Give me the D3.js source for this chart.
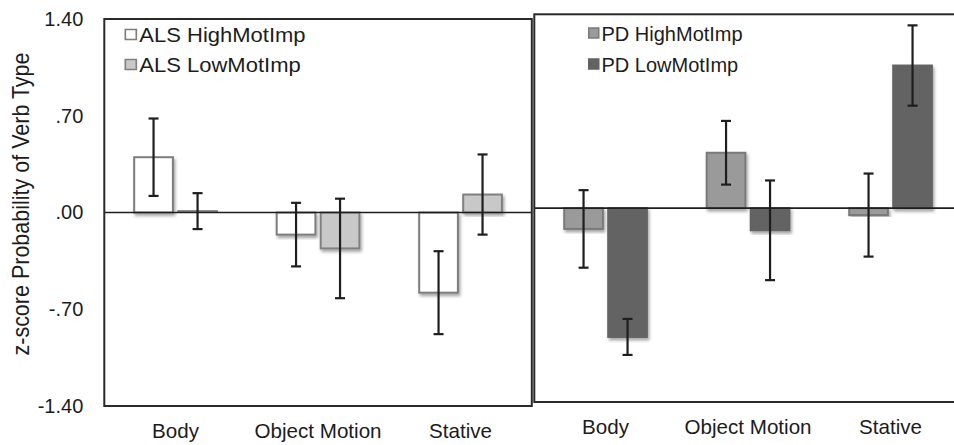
<!DOCTYPE html>
<html>
<head>
<meta charset="utf-8">
<script src="https://cdn.jsdelivr.net/npm/d3@7"></script>
<style>
  body { margin: 0; background: #fff; }
  svg text { font-family: "Liberation Sans", Arial, sans-serif; fill: #1c1c1c; }
</style>
</head>
<body>
<div id="chart"></div>
<script>
// data
const categories = ["Body", "Object Motion", "Stative"];
const alsHigh = [0.40, -0.16, -0.58];
const alsHighErr = [0.28, 0.23, 0.30];
const alsLow = [0.01, -0.26, 0.13];
const alsLowErr = [0.13, 0.36, 0.29];
const pdHigh = [-0.15, 0.40, -0.05];
const pdHighErr = [0.28, 0.23, 0.30];
const pdLow = [-0.93, -0.16, 1.03];
const pdLowErr = [0.13, 0.36, 0.29];
const yTicks = [1.4, 0.7, 0, -0.7, -1.4];

const width = 954, height = 445;

const svg = d3
  .select("#chart")
  .append("svg")
  .attr("width", width)
  .attr("height", height);

// soft shadow under bars
const filter = svg.append("defs").append("filter")
  .attr("id", "shadow")
  .attr("x", "-20%").attr("y", "-20%")
  .attr("width", "140%").attr("height", "140%");
filter.append("feDropShadow")
  .attr("dx", 1.5).attr("dy", 2.5)
  .attr("stdDeviation", 1.5)
  .attr("flood-color", "#000")
  .attr("flood-opacity", 0.35);

//"-.70" style: plain hyphen, no leading zero
const fmt = (v) =>
  d3.format(".2f")(v).replace("\u2212", "-").replace(/^(-?)0\./, "$1.");

//////////////////////////////////////////////////////////////
//////////////////////// Panels //////////////////////////////
//////////////////////////////////////////////////////////////

const panels = [
  {
    x0: 104.3, x1: 531.8, yTop: 19, yBot: 406,
    series: [
      { name: "ALS HighMotImp", values: alsHigh, errs: alsHighErr, fill: "#ffffff", stroke: "#7d7d7d" },
      { name: "ALS LowMotImp", values: alsLow, errs: alsLowErr, fill: "#c8c8c8", stroke: "#808080" },
    ],
    axis: true,
    legend: { x: 124.5, y: 35, dy: 30, stretch: 1.1 },
    labelY: 438,
  },
  {
    x0: 534.3, x1: 961.8, yTop: 14.3, yBot: 402,
    series: [
      { name: "PD HighMotImp", values: pdHigh, errs: pdHighErr, fill: "#9a9a9a", stroke: "#7a7a7a" },
      { name: "PD LowMotImp", values: pdLow, errs: pdLowErr, fill: "#636363", stroke: "#636363" },
    ],
    axis: false,
    legend: { x: 588, y: 33.5, dy: 31, stretch: 1 },
    labelY: 434,
  },
];

panels.forEach((p) => {
  const g = svg.append("g");

  const y = d3.scaleLinear().domain([-1.4, 1.4]).range([p.yBot, p.yTop]);
  const x = d3.scaleBand().domain(categories).range([p.x0, p.x1]);
  const inner = d3.scaleBand()
    .domain(p.series.map((s) => s.name))
    .range([28.9, x.bandwidth() - 28.9])
    .paddingInner(0.075);

  //Bars
  p.series.forEach((s) => {
    g.selectAll(null)
      .data(s.values)
      .enter()
      .append("rect")
      .attr("x", (d, i) => x(categories[i]) + inner(s.name) + 1)
      .attr("width", inner.bandwidth() - 2)
      .attr("y", (d) => Math.min(y(d), y(0)))
      .attr("height", (d) => Math.abs(y(d) - y(0)))
      .attr("fill", s.fill)
      .attr("stroke", s.stroke)
      .attr("stroke-width", 2)
      .attr("filter", "url(#shadow)");
  });

  //Zero line
  g.append("line")
    .attr("x1", p.x0).attr("x2", p.x1)
    .attr("y1", y(0)).attr("y2", y(0))
    .attr("stroke", "#1e1e1e")
    .attr("stroke-width", 1.6);

  //Error bars
  p.series.forEach((s) => {
    s.values.forEach((v, i) => {
      const cx = x(categories[i]) + inner(s.name) + inner.bandwidth() / 2;
      const lo = y(v - s.errs[i]), hi = y(v + s.errs[i]);
      const eb = g.append("g").attr("stroke", "#1e1e1e").attr("stroke-width", 2.2);
      eb.append("line").attr("x1", cx).attr("x2", cx).attr("y1", hi).attr("y2", lo);
      eb.append("line").attr("x1", cx - 5).attr("x2", cx + 5).attr("y1", hi).attr("y2", hi);
      eb.append("line").attr("x1", cx - 5).attr("x2", cx + 5).attr("y1", lo).attr("y2", lo);
    });
  });

  //Frame
  g.append("rect")
    .attr("x", p.x0).attr("y", p.yTop)
    .attr("width", p.x1 - p.x0).attr("height", p.yBot - p.yTop)
    .attr("fill", "none")
    .attr("stroke", "#2a2a2a")
    .attr("stroke-width", 2);

  //Category labels
  g.selectAll(null)
    .data(categories)
    .enter()
    .append("text")
    .attr("x", (d) => x(d) + x.bandwidth() / 2)
    .attr("y", p.labelY)
    .attr("text-anchor", "middle")
    .style("font-size", "20.6px")
    .text((d) => d);

  //Y axis labels, no tick marks
  if (p.axis) {
    const ax = g.append("g")
      .attr("transform", "translate(" + (p.x0 - 21) + ",0)")
      .call(d3.axisLeft(y).tickValues(yTicks).tickFormat(fmt).tickSize(0).tickPadding(0));
    ax.select(".domain").remove();
    ax.selectAll("text")
      .style("font-size", "20px")
      .style("font-family", "'Liberation Sans', Arial, sans-serif")
      .attr("fill", "#1c1c1c");
  }

  //Legend
  const lg = g.append("g")
    .attr("transform", "translate(" + p.legend.x + "," + p.legend.y + ") scale(" + p.legend.stretch + ",1)");
  p.series.forEach((s, i) => {
    const row = lg.append("g").attr("transform", "translate(0," + i * p.legend.dy + ")");
    row.append("rect")
      .attr("x", 0.75).attr("y", -5.5)
      .attr("width", 10).attr("height", 10)
      .attr("fill", s.fill)
      .attr("stroke", s.stroke)
      .attr("stroke-width", 1.5);
    row.append("text")
      .attr("x", 13.5)
      .attr("dy", "0.35em")
      .style("font-size", "20px")
      .text(s.name);
  });
});

//Y axis title
svg.append("text")
  .attr("transform", "translate(29,204) rotate(-90) scale(1,1.1)")
  .attr("text-anchor", "middle")
  .style("font-size", "21.5px")
  .text("z-score Probability of Verb Type");
</script>
</body>
</html>
